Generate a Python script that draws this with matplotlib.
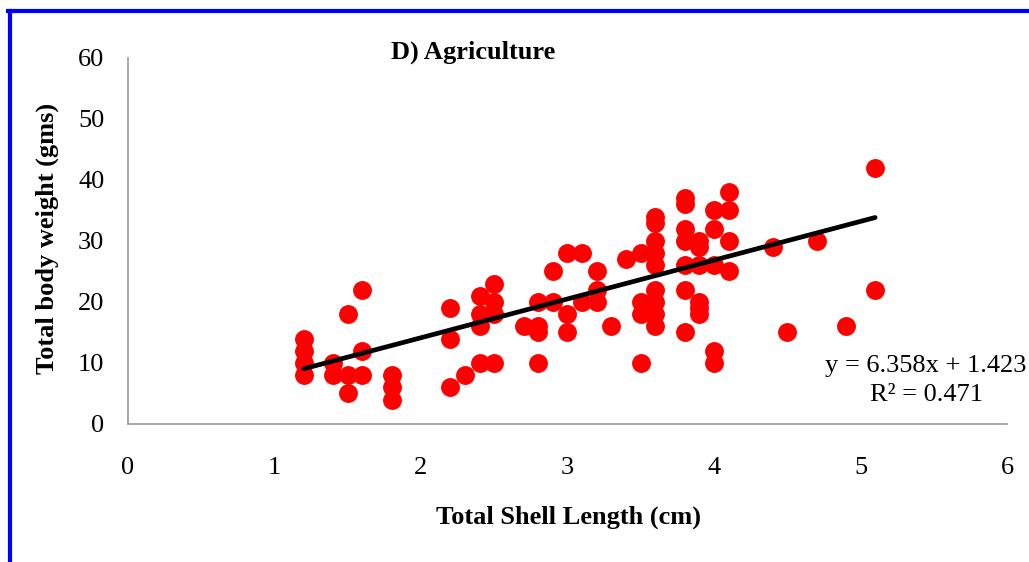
import matplotlib.pyplot as plt
from matplotlib.lines import Line2D

plt.rcParams['font.family'] = ['Liberation Serif', 'DejaVu Serif']

# shell length (cm) and body weight (g), grouped by length
shell_length = [1.2, 1.2, 1.2, 1.2,
                1.4, 1.4,
                1.5, 1.5, 1.5,
                1.6, 1.6, 1.6,
                1.8, 1.8, 1.8,
                2.2, 2.2, 2.2,
                2.3,
                2.4, 2.4, 2.4, 2.4,
                2.5, 2.5, 2.5, 2.5,
                2.7,
                2.8, 2.8, 2.8, 2.8,
                2.9, 2.9,
                3.0, 3.0, 3.0,
                3.1, 3.1,
                3.2, 3.2, 3.2,
                3.3,
                3.4,
                3.5, 3.5, 3.5, 3.5,
                3.6, 3.6, 3.6, 3.6, 3.6, 3.6, 3.6, 3.6, 3.6,
                3.8, 3.8, 3.8, 3.8, 3.8, 3.8, 3.8,
                3.9, 3.9, 3.9, 3.9, 3.9, 3.9,
                4.0, 4.0, 4.0, 4.0, 4.0,
                4.1, 4.1, 4.1, 4.1,
                4.4, 4.5, 4.7, 4.9,
                5.1, 5.1]
body_weight = [14, 12, 10, 8,
               10, 8,
               18, 8, 5,
               22, 12, 8,
               8, 6, 4,
               19, 14, 6,
               8,
               21, 18, 16, 10,
               23, 20, 18, 10,
               16,
               20, 16, 15, 10,
               25, 20,
               28, 18, 15,
               28, 20,
               25, 22, 20,
               16,
               27,
               28, 20, 18, 10,
               34, 33, 30, 28, 26, 22, 20, 18, 16,
               37, 36, 32, 30, 26, 22, 15,
               30, 29, 26, 20, 19, 18,
               35, 32, 26, 12, 10,
               38, 35, 30, 25,
               29, 15, 30, 16,
               42, 22]

slope = 6.358
intercept = 1.423
r_squared = 0.471

x_ticks = [0, 1, 2, 3, 4, 5, 6]
y_ticks = [0, 10, 20, 30, 40, 50, 60]

fig = plt.figure(figsize=(10.29, 5.62), dpi=100)
ax = fig.add_axes([0.1244, 0.2456, 0.8542, 0.6512])

ax.plot(shell_length, body_weight, 'o', color='#ff0000', markersize=13.6,
        markeredgewidth=0, zorder=2)

# linear trend line over the range of the data
x0, x1 = min(shell_length), max(shell_length)
ax.plot([x0, x1], [slope * x0 + intercept, slope * x1 + intercept],
        color='black', linewidth=3.4, solid_capstyle='round', zorder=3)

ax.set_xlim(0, 6)
ax.set_ylim(0, 60)
ax.set_xticks(x_ticks)
ax.set_yticks(y_ticks)
ax.tick_params(length=0, labelsize=19, colors='black')
ax.tick_params(axis='x', pad=24)
ax.tick_params(axis='y', pad=17)

for side in ['top', 'right']:
    ax.spines[side].set_visible(False)
for side in ['left', 'bottom']:
    ax.spines[side].set_color('#a0a0a0')
    ax.spines[side].set_linewidth(1.3)

ax.set_xlabel('Total Shell Length (cm)', fontsize=19, fontweight='bold', va='center')
ax.xaxis.set_label_coords(0.5006, -0.254)
ax.set_ylabel('Total body weight (gms)', fontsize=19, fontweight='bold', va='center')
ax.yaxis.set_label_coords(-0.0922, 0.508)

fig.text(0.4597, 0.9075, 'D) Agriculture', fontsize=19, fontweight='bold',
         ha='center', va='center')

fig.text(0.9, 0.348, 'y = %.3fx + %.3f' % (slope, intercept),
         fontsize=19, ha='center', va='center')
fig.text(0.9, 0.297, 'R² = %.3f' % r_squared,
         fontsize=19, ha='center', va='center')

# frame edges along the left and top
fig.add_artist(Line2D([0.0097, 0.0097], [0, 0.981], color='#0000ff', linewidth=3,
                      transform=fig.transFigure))
fig.add_artist(Line2D([0.008, 1.0], [0.981, 0.981], color='#0000ff', linewidth=3,
                      transform=fig.transFigure))

fig.savefig('out.png', dpi=100)
